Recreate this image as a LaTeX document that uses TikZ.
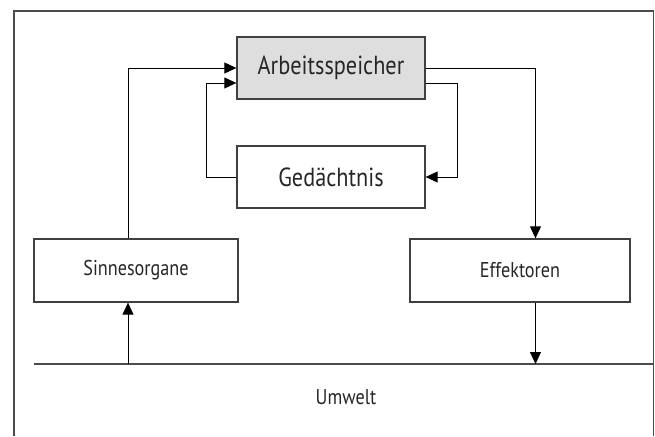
\documentclass[tikz,border=0pt]{standalone}
\usepackage{fontspec}
\setmainfont{PT Sans}[FakeStretch=0.85]
\usetikzlibrary{arrows.meta}
\begin{document}
\begin{tikzpicture}[x=1pt,y=-1pt,
  box/.style={draw=black!75,line width=1.3pt,minimum height=62pt,inner sep=0pt,text=black!85},
  big/.style={font=\fontsize{26.2}{30}\selectfont},
  small/.style={font=\fontsize{21.4}{25}\selectfont},
  conn/.style={line width=0.9pt,-{Triangle[length=12pt,width=11pt]}},
  frameline/.style={line width=1.6pt,draw=black!70}]
\useasboundingbox (0,0) rectangle (655,436);
\draw[frameline] (14,436) -- (14,11) -- (653.5,11) -- (653.5,436);

\node[box,big,fill=black!13,minimum width=188pt] (as) at (331,68) {Arbeitsspeicher};
\node[box,big,minimum width=188pt] (ged) at (331,177) {Gedächtnis};
\node[box,small,minimum width=204pt,minimum height=63pt] (sin) at (136,270.5) {Sinnesorgane};
\node[box,small,minimum width=220pt,minimum height=63pt] (eff) at (520,270.5) {Effektoren};

\coordinate (ul) at (33.6,364);
\coordinate (ur) at (653.5,364);
\draw[frameline] (ul) -- (ur);
\node[small,text=black!85] (umw) at (346,397) {Umwelt};

\coordinate (xs) at (128,0);
\coordinate (xg) at (206,0);
\coordinate (xr) at (457,0);
\coordinate (xe) at (535.5,0);
\coordinate (asw2) at ([yshift=-15pt]as.west);
\coordinate (ase2) at ([yshift=-15pt]as.east);

\draw[conn] (sin.north -| xs) |- (as.west);
\draw[conn] (ged.west) -| (asw2 -| xg) -- (asw2);
\draw[conn] (ase2) -| (ged.east -| xr) -- (ged.east);
\draw[conn] (as.east) -| (eff.north -| xe);
\draw[conn] (eff.south -| xe) -- (ur -| xe);
\draw[conn] (ul -| xs) -- (sin.south -| xs);
\end{tikzpicture}
\end{document}
